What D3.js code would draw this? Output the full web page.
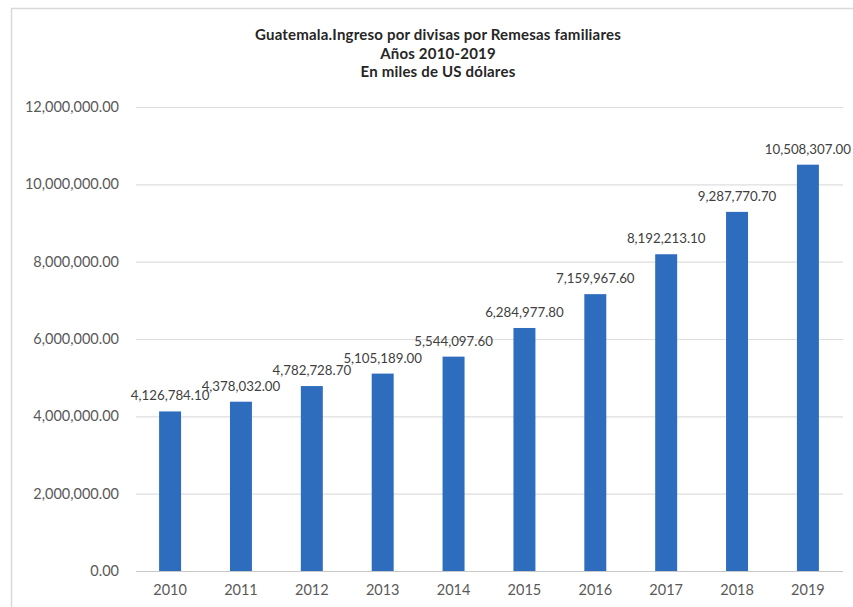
<!DOCTYPE html>
<html>
<head>
    <meta charset="utf-8">
    <title>Remesas Guatemala</title>
    <script src="https://cdn.jsdelivr.net/npm/d3@7"></script>
    <style>
        body { margin: 0; background: #fff; }
        text { font-family: Lato, "Open Sans", sans-serif; }
    </style>
</head>
<body>
<script>
    // datos
    var years = ["2010", "2011", "2012", "2013", "2014", "2015", "2016", "2017", "2018", "2019"];
    var remesas = [4126784.10, 4378032.00, 4782728.70, 5105189.00, 5544097.60,
                   6284977.80, 7159967.60, 8192213.10, 9287770.70, 10508307.00];
    var yTicks = [0, 2000000, 4000000, 6000000, 8000000, 10000000, 12000000];
    var titleLines = ["Guatemala.Ingreso por divisas por Remesas familiares",
                      "Años 2010-2019",
                      "En miles de US dólares"];

    var width = 853, height = 607;
    var plotLeft = 135, plotRight = 843, plotTop = 107, plotBottom = 571;

    var svg = d3.select("body").append("svg")
        .attr("width", width)
        .attr("height", height);

    // borde del area del grafico
    svg.append("rect")
        .attr("x", 11.5).attr("y", 8.5)
        .attr("width", width).attr("height", height)
        .attr("fill", "none")
        .attr("stroke", "#d9d9d9")
        .attr("stroke-width", 1.5);

    var x = d3.scaleBand().domain(years).range([plotLeft, plotRight]).paddingInner(0.69).paddingOuter(0.34);
    var y = d3.scaleLinear().domain([0, 12000000]).range([plotBottom, plotTop]);
    var fmt = d3.format(",.2f");

    // lineas de grilla
    svg.append("g")
        .selectAll("line")
        .data(yTicks)
        .enter().append("line")
        .attr("x1", plotLeft + 1).attr("x2", plotRight)
        .attr("y1", function (d) { return y(d) + 0.5; })
        .attr("y2", function (d) { return y(d) + 0.5; })
        .attr("stroke", function (d) { return d === 0 ? "#c8c8c8" : "#dedede"; })
        .attr("stroke-width", 1.2);

    // eje y
    var yAxis = d3.axisLeft(y).tickValues(yTicks).tickFormat(fmt).tickSize(0).tickPadding(0);
    var gy = svg.append("g")
        .attr("transform", "translate(119,0)")
        .call(yAxis);
    gy.select(".domain").remove();
    gy.selectAll("text")
        .attr("fill", "#595959")
        .style("font-size", "14.5px");

    // eje x
    var xAxis = d3.axisBottom(x).tickSize(0).tickPadding(0);
    var gx = svg.append("g")
        .attr("transform", "translate(0," + (plotBottom + 14) + ")")
        .call(xAxis);
    gx.select(".domain").remove();
    gx.selectAll("text")
        .attr("fill", "#595959")
        .style("font-size", "14.5px");

    // barras
    svg.append("g")
        .selectAll("rect")
        .data(remesas)
        .enter().append("rect")
        .attr("x", function (d, i) { return x(years[i]); })
        .attr("y", function (d) { return y(d); })
        .attr("width", x.bandwidth())
        .attr("height", function (d) { return plotBottom - y(d); })
        .attr("fill", "#2e6cbd");

    // etiquetas de datos
    svg.append("g")
        .selectAll("text")
        .data(remesas)
        .enter().append("text")
        .attr("x", function (d, i) { return x(years[i]) + x.bandwidth() / 2; })
        .attr("y", function (d) { return y(d) - 11; })
        .attr("text-anchor", "middle")
        .attr("fill", "#404040")
        .style("font-size", "13.3px")
        .text(function (d) { return fmt(d); });

    // titulo
    svg.append("g")
        .selectAll("text")
        .data(titleLines)
        .enter().append("text")
        .attr("x", 438)
        .attr("y", function (d, i) { return 40 + i * 18.5; })
        .attr("text-anchor", "middle")
        .attr("fill", "#262626")
        .style("font-size", "15px")
        .style("letter-spacing", "0.2px")
        .style("font-weight", "bold")
        .text(function (d) { return d; });
</script>
</body>
</html>
